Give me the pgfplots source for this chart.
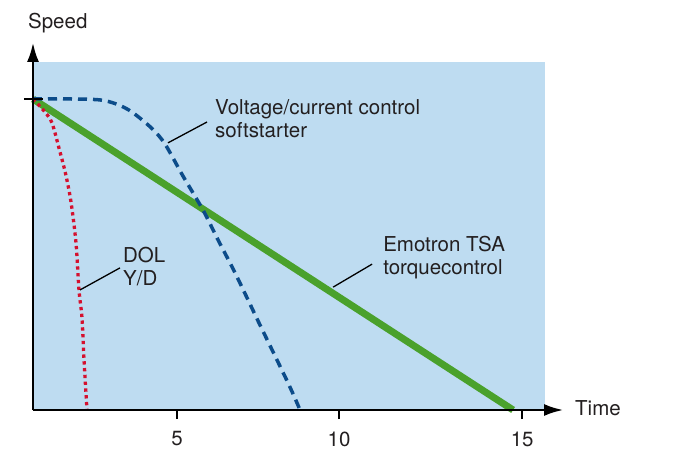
\documentclass[border=0pt]{standalone}
\usepackage{pgfplots}
\pgfplotsset{compat=1.18}
\usepackage{fontspec}
\setmainfont{TeX Gyre Heros}
\usetikzlibrary{arrows.meta}

\definecolor{bgblue}{RGB}{190,220,241}
\definecolor{tsagreen}{RGB}{74,161,44}
\definecolor{scblue}{RGB}{12,76,138}
\definecolor{dolred}{RGB}{213,16,46}
\definecolor{txt}{RGB}{35,31,32}
\newcommand\lblfont{\fontsize{20.5bp}{23bp}\selectfont}

\begin{document}
\begin{tikzpicture}[lbl/.style={anchor=west, align=left, inner sep=0pt, font=\lblfont, text=txt}]
\useasboundingbox (-33bp,-41bp) rectangle (641bp,410bp);
\begin{axis}[
    scale only axis,
    width=530bp, height=367bp,
    xmin=0.556, xmax=16.91,
    ymin=0, ymax=1.18,
    axis lines=left,
    axis on top,
    clip=false,
    axis line style={line width=2bp, black, -{Latex[length=19bp,width=12bp]}},
    xtick={5,10,15.65},
    xticklabels={5,10,15},
    ytick=\empty,
    tick align=outside,
    major tick length=9bp,
    tick style={line width=2bp, black},
    /pgf/number format/assume math mode=true,
    every tick label/.append style={font=\lblfont, text=txt},
    xticklabel style={yshift=-9bp},
]

% background
\addplot[draw=none, fill=bgblue] coordinates {(0.556,1.119) (16.36,1.119)} \closedcycle;

% Emotron TSA torque control
\addplot[tsagreen, line width=7bp] coordinates {(0.556,1) (15.37,0)};

% voltage/current control softstarter
\addplot[scblue, line width=3.5bp, dash pattern=on 9bp off 6bp, smooth, tension=0.5] coordinates {
    (0.556,1) (1.698,1) (2.623,0.997) (3.148,0.983) (3.611,0.958)
    (4.228,0.905) (4.630,0.855) (5.185,0.752) (5.802,0.643)
    (6.265,0.547) (6.790,0.441) (7.562,0.273) (8.426,0.087) (8.796,0)
};

% DOL, Y/D
\addplot[dolred, line width=3.3bp, dash pattern=on 3.3bp off 3.5bp, smooth, tension=0.5] coordinates {
    (0.556,1) (0.926,0.958) (1.142,0.923) (1.358,0.842)
    (1.560,0.760) (1.728,0.669) (1.883,0.537)
    (1.975,0.386) (2.068,0.296) (2.130,0.161) (2.222,0)
};

% tick at start speed
\draw[line width=2bp, black] (axis cs:0.278,1) -- (axis cs:0.865,1);

% leaders
\draw[line width=1.3bp, black] (axis cs:4.722,0.859) -- (axis cs:5.926,0.926);
\draw[line width=1.3bp, black] (axis cs:9.815,0.395) -- (axis cs:11.019,0.469);
\draw[line width=1.3bp, black] (axis cs:2.006,0.386) -- (axis cs:3.241,0.457);

% labels
\node[lbl] at (axis cs:6.173,0.937) {Voltage/current control\\softstarter};
\node[lbl] at (axis cs:11.358,0.489) {Emotron TSA\\torquecontrol};
\node[lbl] at (axis cs:3.333,0.461) {DOL\\Y/D};
\node[lbl] at (axis cs:0.401,1.244) {Speed};
\node[lbl] at (axis cs:17.28,0.006) {Time};
\end{axis}
\end{tikzpicture}
\end{document}
